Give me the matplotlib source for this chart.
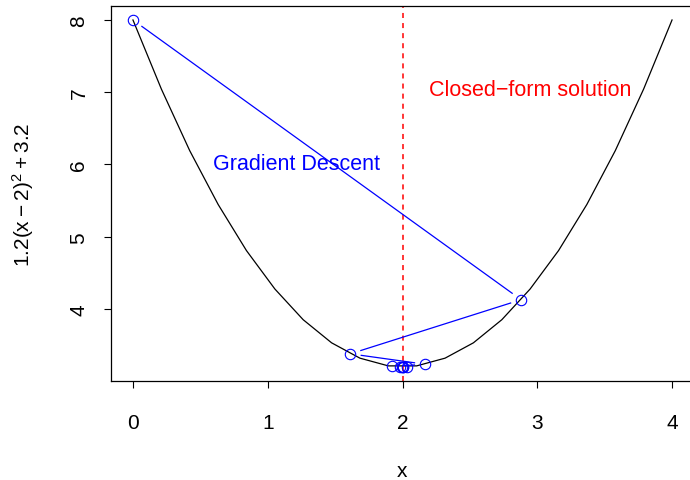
import numpy as np
import matplotlib
matplotlib.use("Agg")
import matplotlib.pyplot as plt

plt.rcParams['font.family'] = ['Liberation Sans', 'DejaVu Sans']
plt.rcParams['mathtext.fontset'] = 'custom'
plt.rcParams['mathtext.rm'] = 'Liberation Sans'

# curve y = 1.2(x-2)^2 + 3.2, 20 points between 0 and 4
curve_x = [0.0, 0.211, 0.421, 0.632, 0.842, 1.053, 1.263, 1.474, 1.684, 1.895,
           2.105, 2.316, 2.526, 2.737, 2.947, 3.158, 3.368, 3.579, 3.789, 4.0]
curve_y = [8.0, 7.043, 6.192, 5.447, 4.809, 4.277, 3.852, 3.532, 3.320, 3.213,
           3.213, 3.320, 3.532, 3.852, 4.277, 4.809, 5.447, 6.192, 7.043, 8.0]

# gradient descent iterates
gd_x = [0.0, 2.88, 1.613, 2.170, 1.925, 2.033, 1.985, 2.006, 1.997, 2.001]
gd_y = [8.0, 4.129, 3.380, 3.235, 3.207, 3.201, 3.200, 3.200, 3.200, 3.200]

closed_form_x = 2.0

fig = plt.figure(figsize=(6.9, 4.81), dpi=100)
ax = fig.add_axes([111.4 / 690, 99.3 / 481, 582.2 / 690, 374.6 / 481])
ax.set_xlim(-0.16, 4.16)
ax.set_ylim(3.008, 8.192)

ax.plot(curve_x, curve_y, color='black', lw=0.9)
ax.axvline(closed_form_x, color='#FF0000', lw=1.1, dashes=(3.3, 3.3))

# points + lines with gaps like R type = "b"
ax.plot(gd_x, gd_y, 'o', ms=7.5, mfc='none', mec='blue', mew=0.8)
gap = 11.0
pts = ax.transData.transform(np.column_stack([gd_x, gd_y]))
inv = ax.transData.inverted()
for p, q in zip(pts[:-1], pts[1:]):
    d = q - p
    L = np.hypot(*d)
    if L <= 2 * gap:
        continue
    u = d / L
    a = inv.transform(p + u * gap)
    b = inv.transform(q - u * gap)
    ax.plot([a[0], b[0]], [a[1], b[1]], color='blue', lw=0.9)

ax.text(1.21, 6.02, 'Gradient Descent', color='blue', fontsize=15.5,
        ha='center', va='center')
ax.text(2.95, 7.04, 'Closed\u2212form solution', color='red', fontsize=15.5,
        ha='center', va='center')

ax.set_xticks([0, 1, 2, 3, 4])
ax.set_yticks([4, 5, 6, 7, 8])
ax.tick_params(axis='both', direction='out', length=5, width=0.8, labelsize=15)
ax.tick_params(axis='x', pad=18)
ax.tick_params(axis='y', pad=11.5, labelrotation=90)
for lab in ax.get_yticklabels():
    lab.set_va('center')
for s in ax.spines.values():
    s.set_linewidth(0.9)

ax.set_xlabel('x', fontsize=15, labelpad=21)
ax.set_ylabel(r'$\mathregular{1.2(x-2)^2+3.2}$', fontsize=15, labelpad=24)

fig.savefig('out.png', dpi=100)
